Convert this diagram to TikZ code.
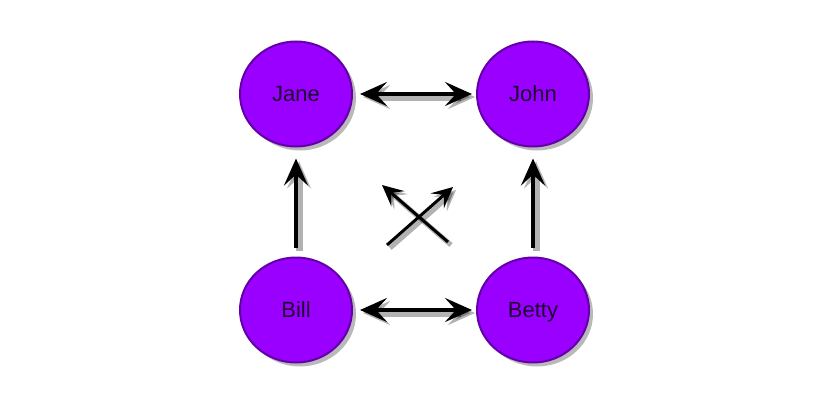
\documentclass[tikz,border=0pt]{standalone}
\usepackage{fontspec}
\setmainfont{Liberation Sans}
\usepackage{xcolor}
\usepackage{tikz}
\usetikzlibrary{arrows.meta,shapes.geometric,shadows}

\definecolor{pfill}{HTML}{9A00FF}
\definecolor{pedge}{HTML}{6400A8}
\definecolor{ptext}{HTML}{1E0030}

\begin{document}
\begin{tikzpicture}[
  x=1pt, y=-1pt,
  person/.style={ellipse, fill=pfill, draw=pedge, line width=2pt, minimum width=112pt, minimum height=105pt, text=ptext, text depth=0pt, font=\fontsize{22}{26}\selectfont, drop shadow={shadow xshift=4pt, shadow yshift=-4pt, opacity=0.55}},
  link/.style={line width=4pt, -{Stealth[length=27pt, width=24pt, inset=11pt]}, preaction={draw=black, opacity=0.3, line width=7pt, transform canvas={shift={(3pt,-3pt)}}}},
  both/.style={link, {Stealth[length=27pt, width=24pt, inset=11pt]}-{Stealth[length=27pt, width=24pt, inset=11pt]}},
  thin/.style={line width=3pt, -{Stealth[length=21pt, width=20pt, inset=9pt]}, preaction={draw=black, opacity=0.3, line width=5pt, transform canvas={shift={(3pt,-3pt)}}}}]
  \useasboundingbox (0,0) rectangle (840,412);
  \node[person] (jane) at (296,94) {Jane};
  \node[person] (john) at (533,94) {John};
  \node[person] (bill) at (296,310) {Bill};
  \node[person] (betty) at (533,310) {Betty};
  % ends of the crossed pair
  \coordinate (xa) at (448,242);
  \coordinate (xb) at (382,185);
  \coordinate (xc) at (387,245);
  \coordinate (xd) at (453,187);
  \draw[both, shorten <=7pt, shorten >=4pt] (jane) -- (john);
  \draw[both, shorten <=7pt, shorten >=4pt] (bill) -- (betty);
  \draw[link, shorten <=9pt, shorten >=11pt] (bill) -- (jane);
  \draw[link, shorten <=9pt, shorten >=11pt] (betty) -- (john);
  \draw[thin] (xa) -- (xb);
  \draw[thin] (xc) -- (xd);
\end{tikzpicture}
\end{document}
